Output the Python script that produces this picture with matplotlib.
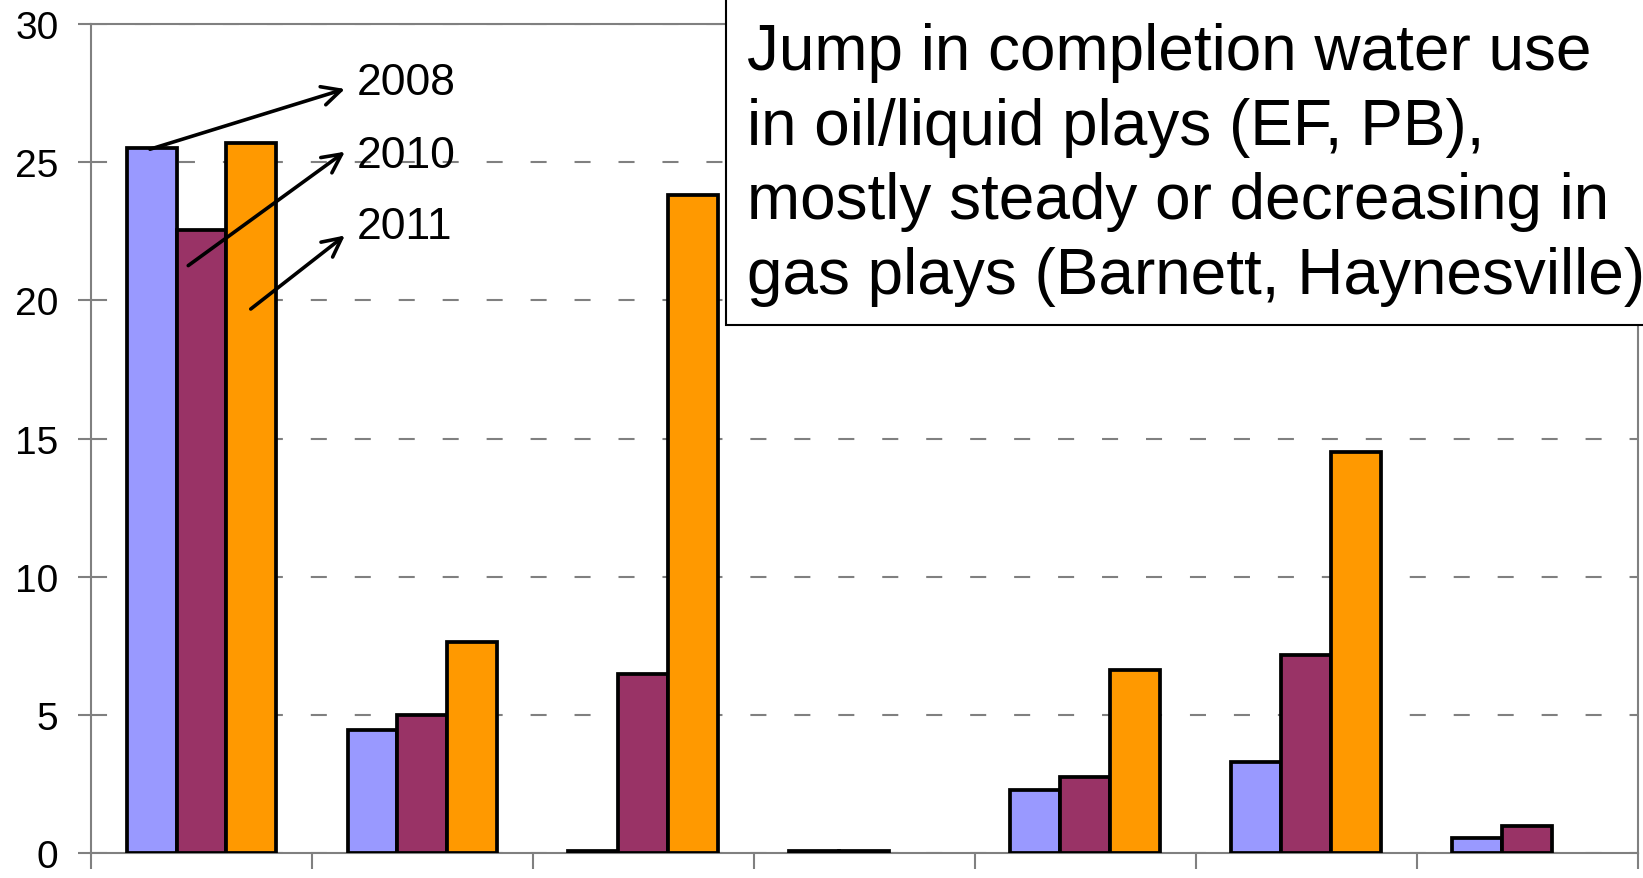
import numpy as np
import matplotlib.pyplot as plt
from matplotlib.patches import Rectangle

plt.rcParams['font.family'] = ['Liberation Sans', 'DejaVu Sans']

# completion water use per play, three survey years
years = ['2008', '2010', '2011']
v2008 = [25.5, 4.45, 0.08, 0.08, 2.3, 3.3, 0.55]
v2010 = [22.55, 5.0, 6.5, 0.08, 2.75, 7.17, 1.0]
v2011 = [25.7, 7.65, 23.8, np.nan, 6.62, 14.5, np.nan]
colors = ['#9999FF', '#993366', '#FF9900']

note_lines = ["Jump in completion water use",
              "in oil/liquid plays (EF, PB),",
              "mostly steady or decreasing in",
              "gas plays (Barnett, Haynesville)"]

fig = plt.figure(figsize=(16.43, 8.79), dpi=100)
ax = fig.add_axes([91 / 1643, 1 - 854.3 / 879, (1637.7 - 91) / 1643, (854.3 - 25) / 879])

x = np.arange(len(v2008))
w = 0.226
for i, (vals, c) in enumerate(zip([v2008, v2010, v2011], colors)):
    ax.bar(x + (i - 1) * w, vals, width=w, color=c, edgecolor='black',
           linewidth=2.7, zorder=3, label=years[i])

ax.set_xlim(-0.5, len(x) - 0.5)
ax.set_ylim(0, 30)
ax.set_yticks(range(0, 31, 5))
ax.set_xticks(np.arange(-0.5, len(x), 1.0))
ax.set_xticklabels([])

grey = '#808080'
for s in ax.spines.values():
    s.set_color(grey)
    s.set_linewidth(1.5)
ax.tick_params(axis='y', length=9.4, width=1.5, color=grey, pad=14, labelsize=28)
ax.tick_params(axis='x', length=11.5, width=1.5, color=grey)
ax.yaxis.grid(True, color=grey, linewidth=1.5, linestyle=(0, (7.7, 13.4)))
ax.set_axisbelow(True)

# year labels with arrows pointing from the first group's bars
label_y = [27.87, 25.26, 22.66]
starts = [(-0.233, 25.47), (-0.06, 21.26), (0.223, 19.69)]
ends = [(0.649, 27.65), (0.649, 25.38), (0.649, 22.35)]
for yr, ly, s, e in zip(years, label_y, starts, ends):
    ax.annotate('', xy=e, xytext=s,
                arrowprops=dict(arrowstyle='->', color='black', lw=2.6,
                                mutation_scale=34, shrinkA=0, shrinkB=0),
                zorder=5)
    ax.text(0.7036, ly, yr, fontsize=32, va='center', ha='left', zorder=5)

# note box in the upper right
box = Rectangle((726 / 1643, 1 - 326 / 879), 0.6, 0.5, transform=fig.transFigure,
                facecolor='white', edgecolor='black', linewidth=1.5, zorder=10)
fig.add_artist(box)
for k, line in enumerate(note_lines):
    fig.text(747 / 1643, 1 - (70 + 74.7 * k) / 879, line, fontsize=46,
             va='baseline', ha='left', zorder=11)

fig.savefig('out.png', dpi=100)
